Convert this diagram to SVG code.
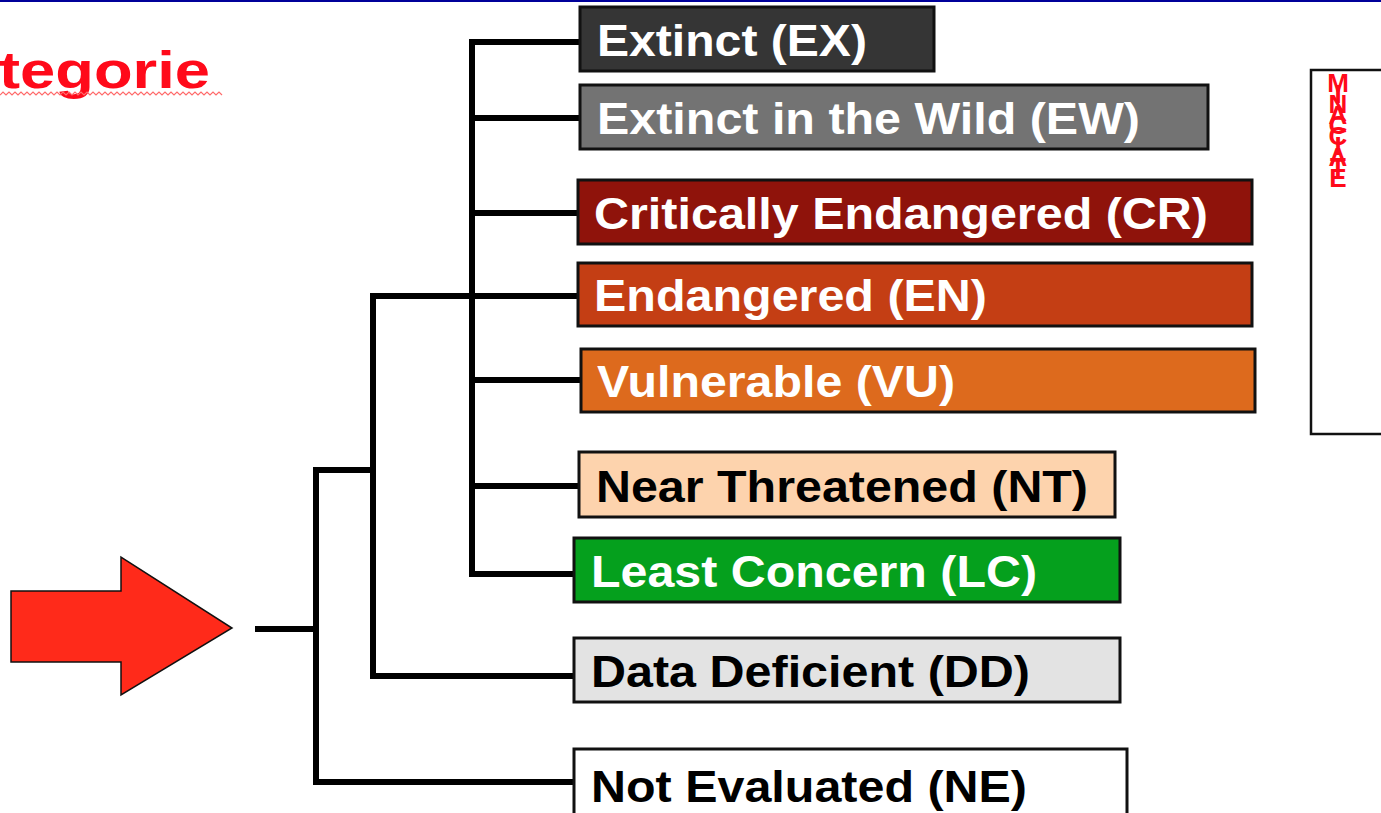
<svg xmlns="http://www.w3.org/2000/svg" width="1381" height="813" viewBox="0 0 1381 813">
<style>
.box{stroke:#111;stroke-width:3}
.lbl{font-family:"Liberation Sans",Arial,sans-serif;font-weight:bold;font-size:45px}
.w{fill:#fff}
.k{fill:#000}
.conn{stroke:#000;stroke-width:6;fill:none;stroke-linecap:square}
</style>
<rect x="0" y="0" width="1381" height="813" fill="#fff"/>
<rect x="0" y="0" width="1381" height="2" fill="#00009a"/>
<g id="title">
<text x="-1" y="88" font-family="Liberation Sans, Arial, sans-serif" font-weight="bold" font-size="52" fill="#ff0a1a" textLength="211" lengthAdjust="spacingAndGlyphs">tegorie</text>
<path d="M0 95 l3 -3 l3 3 l3 -3 l3 3 l3 -3 l3 3 l3 -3 l3 3 l3 -3 l3 3 l3 -3 l3 3 l3 -3 l3 3 l3 -3 l3 3 l3 -3 l3 3 l3 -3 l3 3 l3 -3 l3 3 l3 -3 l3 3 l3 -3 l3 3 l3 -3 l3 3 l3 -3 l3 3 l3 -3 l3 3 l3 -3 l3 3 l3 -3 l3 3 l3 -3 l3 3 l3 -3 l3 3 l3 -3 l3 3 l3 -3 l3 3 l3 -3 l3 3 l3 -3 l3 3 l3 -3 l3 3 l3 -3 l3 3 l3 -3 l3 3 l3 -3 l3 3 l3 -3 l3 3 l3 -3 l3 3 l3 -3 l3 3 l3 -3 l3 3 l3 -3 l3 3 l3 -3 l3 3 l3 -3 l3 3 l3 -3 l3 3 l3 -3 l3 3" fill="none" stroke="#ff6b6b" stroke-width="1.2"/>
</g>
<g id="arrow">
<polygon points="11,591 121,591 121,557 232,628 121,695 121,662 11,662" fill="#ff2a1a" stroke="#111" stroke-width="1.5"/>
</g>
<g id="connectors">
<path class="conn" d="M258 629 H316"/>
<path class="conn" d="M316 470 V782 H574"/>
<path class="conn" d="M316 470 H373"/>
<path class="conn" d="M373 296 V676 H574"/>
<path class="conn" d="M373 296 H578"/>
<path class="conn" d="M472 42 V574 H574"/>
<path class="conn" d="M472 42 H580"/>
<path class="conn" d="M472 118 H580"/>
<path class="conn" d="M472 213 H578"/>
<path class="conn" d="M472 380 H581"/>
<path class="conn" d="M472 486 H579"/>
</g>
<g id="EX">
<rect class="box" x="580" y="7" width="354" height="64" fill="#353535"/>
<text class="lbl w" x="597" y="56" textLength="270" lengthAdjust="spacingAndGlyphs">Extinct (EX)</text>
</g>
<g id="EW">
<rect class="box" x="580" y="85" width="628" height="64" fill="#737373"/>
<text class="lbl w" x="597" y="134" textLength="543" lengthAdjust="spacingAndGlyphs">Extinct in the Wild (EW)</text>
</g>
<g id="CR">
<rect class="box" x="578" y="180" width="674" height="64" fill="#8f130b"/>
<text class="lbl w" x="594" y="229" textLength="614" lengthAdjust="spacingAndGlyphs">Critically Endangered (CR)</text>
</g>
<g id="EN">
<rect class="box" x="578" y="263" width="674" height="63" fill="#c43e14"/>
<text class="lbl w" x="594" y="311" textLength="393" lengthAdjust="spacingAndGlyphs">Endangered (EN)</text>
</g>
<g id="VU">
<rect class="box" x="581" y="349" width="674" height="63" fill="#dd6a1d"/>
<text class="lbl w" x="597" y="397" textLength="358" lengthAdjust="spacingAndGlyphs">Vulnerable (VU)</text>
</g>
<g id="NT">
<rect class="box" x="579" y="452" width="536" height="65" fill="#fdd3ad"/>
<text class="lbl k" x="596" y="502" textLength="492" lengthAdjust="spacingAndGlyphs">Near Threatened (NT)</text>
</g>
<g id="LC">
<rect class="box" x="574" y="538" width="546" height="64" fill="#05a01d"/>
<text class="lbl w" x="591" y="587" textLength="446" lengthAdjust="spacingAndGlyphs">Least Concern (LC)</text>
</g>
<g id="DD">
<rect class="box" x="574" y="638" width="546" height="64" fill="#e3e3e3"/>
<text class="lbl k" x="591" y="687" textLength="439" lengthAdjust="spacingAndGlyphs">Data Deficient (DD)</text>
</g>
<g id="NE">
<rect class="box" x="574" y="749" width="553" height="70" fill="#fff"/>
<text class="lbl k" x="591" y="802" textLength="436" lengthAdjust="spacingAndGlyphs">Not Evaluated (NE)</text>
</g>
<g id="threatened-box">
<rect x="1311" y="70" width="80" height="364" fill="#fff" stroke="#111" stroke-width="2.5"/>
<text x="1338" y="68" font-family="Liberation Sans, Arial, sans-serif" font-weight="bold" font-size="26" fill="#ff0a1a" style="writing-mode:vertical-rl;text-orientation:upright;letter-spacing:-19.5px">MINACCIATE</text>
</g>
</svg>
